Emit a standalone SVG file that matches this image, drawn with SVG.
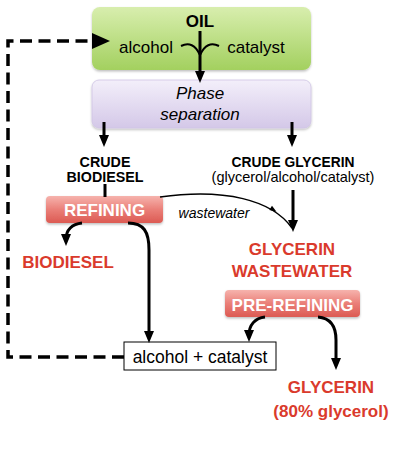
<svg xmlns="http://www.w3.org/2000/svg" width="400" height="456" viewBox="0 0 400 456">
<style>
text{font-family:"Liberation Sans",Arial,sans-serif;text-anchor:middle}
.b{font-weight:bold}
.it{font-style:italic}
.red{fill:#da3a2c;font-weight:bold;font-size:17px}
.wh{fill:#ffffff;font-weight:bold;font-size:17px}
.ln{fill:none;stroke:#000;stroke-width:3}
</style>
<defs>
<linearGradient id="gG" x1="0" y1="0" x2="0" y2="1"><stop offset="0" stop-color="#d8eeae"/><stop offset="1" stop-color="#a3d05f"/></linearGradient>
<linearGradient id="gP" x1="0" y1="0" x2="0" y2="1"><stop offset="0" stop-color="#f3effa"/><stop offset="1" stop-color="#d4c8e8"/></linearGradient>
<linearGradient id="gR" x1="0" y1="0" x2="0" y2="1"><stop offset="0" stop-color="#f6b3ad"/><stop offset="0.5" stop-color="#ea7f78"/><stop offset="1" stop-color="#dc5a53"/></linearGradient>
<filter id="sh" x="-10%" y="-10%" width="120%" height="130%"><feDropShadow dx="0" dy="1.5" stdDeviation="1.2" flood-color="#000" flood-opacity="0.25"/></filter>
<marker id="ah" markerUnits="userSpaceOnUse" markerWidth="12" markerHeight="12" viewBox="0 0 12 12" refX="5" refY="6" orient="auto"><path d="M0,1 L12,6 L0,11 z" fill="#000"/></marker>
<marker id="ahb" markerUnits="userSpaceOnUse" markerWidth="18" markerHeight="16" viewBox="0 0 18 16" refX="4" refY="8" orient="auto"><path d="M0,0 L18,8 L0,16 z" fill="#000"/></marker>
</defs>
<rect width="400" height="456" fill="#fff"/>

<g id="oil">
<rect x="92" y="7" width="219" height="63" rx="8" fill="url(#gG)" filter="url(#sh)"/>
<text x="200" y="27" class="b" font-size="17">OIL</text>
<text x="146" y="53" font-size="17">alcohol</text>
<text x="256" y="53" font-size="17">catalyst</text>
</g>

<g id="phase">
<rect x="92" y="80" width="219" height="48" rx="7" fill="url(#gP)" stroke="#cfc4e4" stroke-width="0.8" filter="url(#sh)"/>
<text x="200" y="99" class="it" font-size="17">Phase</text>
<text x="200" y="120" class="it" font-size="17">separation</text>
</g>

<g id="crude-biodiesel">
<text x="105" y="167" class="b" font-size="14.3">CRUDE</text>
<text x="105" y="182" class="b" font-size="14.3">BIODIESEL</text>
</g>

<g id="crude-glycerin">
<text x="293" y="167" class="b" font-size="13.8">CRUDE GLYCERIN</text>
<text x="293" y="182" font-size="14.5">(glycerol/alcohol/catalyst)</text>
</g>

<g id="refining">
<rect x="46" y="196" width="117" height="27" rx="4" fill="url(#gR)" filter="url(#sh)"/>
<text x="104.5" y="216" class="wh">REFINING</text>
</g>

<g id="biodiesel">
<text x="68" y="268" class="red">BIODIESEL</text>
</g>

<g id="glycerin-wastewater">
<text x="292" y="255" class="red">GLYCERIN</text>
<text x="292" y="277" class="red">WASTEWATER</text>
</g>

<g id="pre-refining">
<rect x="225" y="290" width="135" height="27" rx="4" fill="url(#gR)" filter="url(#sh)"/>
<text x="292.5" y="311" class="wh">PRE-REFINING</text>
</g>

<g id="alcohol-catalyst">
<rect x="124" y="342" width="152" height="28" fill="#fff" stroke="#000" stroke-width="1"/>
<text x="200" y="363" font-size="17.5">alcohol + catalyst</text>
</g>

<g id="glycerin">
<text x="331" y="393" class="red">GLYCERIN</text>
<text x="331" y="417" class="red">(80% glycerol)</text>
</g>

<g id="connectors">
<path d="M181,46 Q193,40 200,55 M219,46 Q207,40 200,55" fill="none" stroke="#000" stroke-width="2"/>
<line x1="200" y1="31" x2="200" y2="76" class="ln" marker-end="url(#ah)"/>
<line x1="104" y1="122" x2="104" y2="140" class="ln" marker-end="url(#ah)"/>
<line x1="292" y1="122" x2="292" y2="140" class="ln" marker-end="url(#ah)"/>
<line x1="105" y1="184" x2="105" y2="197" class="ln"/>
<line x1="293" y1="190" x2="293" y2="225" class="ln" marker-end="url(#ah)"/>
<path d="M160,197 C225,188 272,200 292,228" fill="none" stroke="#000" stroke-width="1.5"/>
<path d="M-4,-2.5 L3,0 L-4,2.5 z" transform="translate(274,210) rotate(33)" fill="#000"/>
<text x="214" y="218" class="it" font-size="14">wastewater</text>
<path d="M82,223 C72,224 66,230 66,239" class="ln" marker-end="url(#ah)"/>
<path d="M128,223 C144,223 149,232 149,250 L149,336" class="ln" marker-end="url(#ah)"/>
<path d="M265,317 C255,318 249,325 249,335" class="ln" marker-end="url(#ah)"/>
<path d="M318,317 C330,318 336,326 336,340 L336,363" class="ln" marker-end="url(#ah)"/>
<path d="M124,357 H8 V41 H96" fill="none" stroke="#000" stroke-width="3.5" stroke-dasharray="12,6.5" marker-end="url(#ahb)"/>
</g>
</svg>
